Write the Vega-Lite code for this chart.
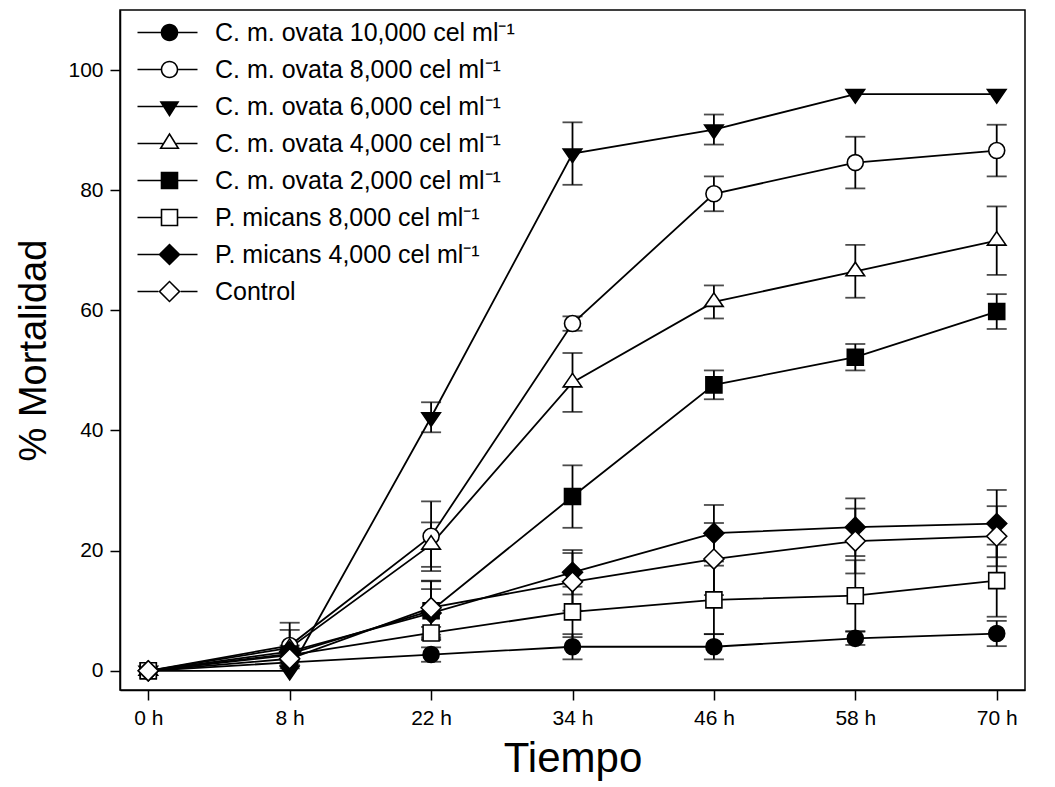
{
  "$schema": "https://vega.github.io/schema/vega-lite/v6.json",
  "width": 905,
  "height": 680,
  "autosize": {"type": "none"},
  "padding": {"left": 120, "top": 10, "right": 30, "bottom": 97},
  "background": "white",
  "config": {
    "font": "Liberation Sans",
    "view": {"stroke": "black", "strokeWidth": 1.5},
    "axis": {
      "domainColor": "black", "domainWidth": 1.5,
      "tickColor": "black", "tickWidth": 1.5, "tickSize": 10,
      "grid": false,
      "labelFont": "Liberation Sans", "labelFontSize": 21, "labelColor": "black",
      "titleFont": "Liberation Sans", "titleFontWeight": "normal", "titleColor": "black", "titleFontSize": 38
    }
  },
  "data": {"values": [
    {"s": "C. m. ovata 10,000 cel ml⁻¹", "t": "0 h", "h": 0, "m": 0, "e": 0},
    {"s": "C. m. ovata 10,000 cel ml⁻¹", "t": "8 h", "h": 8, "m": 1.4, "e": 0},
    {"s": "C. m. ovata 10,000 cel ml⁻¹", "t": "22 h", "h": 22, "m": 2.7, "e": 1.2},
    {"s": "C. m. ovata 10,000 cel ml⁻¹", "t": "34 h", "h": 34, "m": 4.0, "e": 2.1},
    {"s": "C. m. ovata 10,000 cel ml⁻¹", "t": "46 h", "h": 46, "m": 4.0, "e": 2.1},
    {"s": "C. m. ovata 10,000 cel ml⁻¹", "t": "58 h", "h": 58, "m": 5.4, "e": 1.1},
    {"s": "C. m. ovata 10,000 cel ml⁻¹", "t": "70 h", "h": 70, "m": 6.2, "e": 2.1},
    {"s": "C. m. ovata 8,000 cel ml⁻¹", "t": "0 h", "h": 0, "m": 0, "e": 0},
    {"s": "C. m. ovata 8,000 cel ml⁻¹", "t": "8 h", "h": 8, "m": 4.2, "e": 3.8},
    {"s": "C. m. ovata 8,000 cel ml⁻¹", "t": "22 h", "h": 22, "m": 22.4, "e": 5.8},
    {"s": "C. m. ovata 8,000 cel ml⁻¹", "t": "34 h", "h": 34, "m": 57.8, "e": 1.2},
    {"s": "C. m. ovata 8,000 cel ml⁻¹", "t": "46 h", "h": 46, "m": 79.4, "e": 2.9},
    {"s": "C. m. ovata 8,000 cel ml⁻¹", "t": "58 h", "h": 58, "m": 84.6, "e": 4.3},
    {"s": "C. m. ovata 8,000 cel ml⁻¹", "t": "70 h", "h": 70, "m": 86.6, "e": 4.3},
    {"s": "C. m. ovata 6,000  cel ml⁻¹", "t": "0 h", "h": 0, "m": 0, "e": 0},
    {"s": "C. m. ovata 6,000  cel ml⁻¹", "t": "8 h", "h": 8, "m": 0, "e": 0},
    {"s": "C. m. ovata 6,000  cel ml⁻¹", "t": "22 h", "h": 22, "m": 42.2, "e": 2.5},
    {"s": "C. m. ovata 6,000  cel ml⁻¹", "t": "34 h", "h": 34, "m": 86.1, "e": 5.2},
    {"s": "C. m. ovata 6,000  cel ml⁻¹", "t": "46 h", "h": 46, "m": 90.1, "e": 2.5},
    {"s": "C. m. ovata 6,000  cel ml⁻¹", "t": "58 h", "h": 58, "m": 96.0, "e": 0},
    {"s": "C. m. ovata 6,000  cel ml⁻¹", "t": "70 h", "h": 70, "m": 96.0, "e": 0},
    {"s": "C. m. ovata 4,000 cel ml⁻¹", "t": "0 h", "h": 0, "m": 0, "e": 0},
    {"s": "C. m. ovata 4,000 cel ml⁻¹", "t": "8 h", "h": 8, "m": 3.8, "e": 3.0},
    {"s": "C. m. ovata 4,000 cel ml⁻¹", "t": "22 h", "h": 22, "m": 21.0, "e": 3.7},
    {"s": "C. m. ovata 4,000 cel ml⁻¹", "t": "34 h", "h": 34, "m": 48.0, "e": 4.9},
    {"s": "C. m. ovata 4,000 cel ml⁻¹", "t": "46 h", "h": 46, "m": 61.4, "e": 2.75},
    {"s": "C. m. ovata 4,000 cel ml⁻¹", "t": "58 h", "h": 58, "m": 66.5, "e": 4.4},
    {"s": "C. m. ovata 4,000 cel ml⁻¹", "t": "70 h", "h": 70, "m": 71.6, "e": 5.7},
    {"s": "C. m. ovata 2,000 cel ml⁻¹", "t": "0 h", "h": 0, "m": 0, "e": 0},
    {"s": "C. m. ovata 2,000 cel ml⁻¹", "t": "8 h", "h": 8, "m": 2.8, "e": 1.0},
    {"s": "C. m. ovata 2,000 cel ml⁻¹", "t": "22 h", "h": 22, "m": 10.0, "e": 4.9},
    {"s": "C. m. ovata 2,000 cel ml⁻¹", "t": "34 h", "h": 34, "m": 29.0, "e": 5.2},
    {"s": "C. m. ovata 2,000 cel ml⁻¹", "t": "46 h", "h": 46, "m": 47.6, "e": 2.4},
    {"s": "C. m. ovata 2,000 cel ml⁻¹", "t": "58 h", "h": 58, "m": 52.2, "e": 2.2},
    {"s": "C. m. ovata 2,000 cel ml⁻¹", "t": "70 h", "h": 70, "m": 59.8, "e": 2.9},
    {"s": "P. micans 8,000 cel ml⁻¹", "t": "0 h", "h": 0, "m": 0, "e": 0},
    {"s": "P. micans 8,000 cel ml⁻¹", "t": "8 h", "h": 8, "m": 2.6, "e": 1.0},
    {"s": "P. micans 8,000 cel ml⁻¹", "t": "22 h", "h": 22, "m": 6.3, "e": 1.0},
    {"s": "P. micans 8,000 cel ml⁻¹", "t": "34 h", "h": 34, "m": 9.8, "e": 4.2},
    {"s": "P. micans 8,000 cel ml⁻¹", "t": "46 h", "h": 46, "m": 11.8, "e": 5.7},
    {"s": "P. micans 8,000 cel ml⁻¹", "t": "58 h", "h": 58, "m": 12.5, "e": 5.9},
    {"s": "P. micans 8,000 cel ml⁻¹", "t": "70 h", "h": 70, "m": 15.0, "e": 6.0},
    {"s": "P. micans 4,000 cel ml⁻¹", "t": "0 h", "h": 0, "m": 0, "e": 0},
    {"s": "P. micans 4,000 cel ml⁻¹", "t": "8 h", "h": 8, "m": 3.2, "e": 1.0},
    {"s": "P. micans 4,000 cel ml⁻¹", "t": "22 h", "h": 22, "m": 9.6, "e": 4.0},
    {"s": "P. micans 4,000 cel ml⁻¹", "t": "34 h", "h": 34, "m": 16.4, "e": 3.7},
    {"s": "P. micans 4,000 cel ml⁻¹", "t": "46 h", "h": 46, "m": 22.9, "e": 4.7},
    {"s": "P. micans 4,000 cel ml⁻¹", "t": "58 h", "h": 58, "m": 23.9, "e": 4.8},
    {"s": "P. micans 4,000 cel ml⁻¹", "t": "70 h", "h": 70, "m": 24.5, "e": 5.6},
    {"s": "Control", "t": "0 h", "h": 0, "m": 0, "e": 0},
    {"s": "Control", "t": "8 h", "h": 8, "m": 2.0, "e": 1.0},
    {"s": "Control", "t": "22 h", "h": 22, "m": 10.5, "e": 4.5},
    {"s": "Control", "t": "34 h", "h": 34, "m": 14.8, "e": 4.8},
    {"s": "Control", "t": "46 h", "h": 46, "m": 18.6, "e": 6.0},
    {"s": "Control", "t": "58 h", "h": 58, "m": 21.6, "e": 5.4},
    {"s": "Control", "t": "70 h", "h": 70, "m": 22.4, "e": 5.0}
  ]},
  "encoding": {
    "x": {
      "field": "t", "type": "ordinal",
      "sort": ["0 h", "8 h", "22 h", "34 h", "46 h", "58 h", "70 h"],
      "scale": {"type": "point", "padding": 0.2},
      "axis": {"title": "Tiempo", "titleFontSize": 42, "labelAngle": 0, "labelPadding": 7, "titlePadding": 10}
    },
    "y": {
      "field": "m", "type": "quantitative",
      "scale": {"domain": [-3.2, 110], "nice": false, "zero": false},
      "axis": {"title": "% Mortalidad", "values": [0, 20, 40, 60, 80, 100], "labelPadding": 7, "titlePadding": 14}
    }
  },
  "resolve": {"scale": {"shape": "independent"}, "legend": {"shape": "independent"}},
  "layer": [
    {
      "mark": {"type": "line", "color": "black", "strokeWidth": 1.8},
      "encoding": {"detail": {"field": "s"}, "order": {"field": "h", "type": "quantitative"}}
    },
    {
      "transform": [{"filter": "datum.e > 0"}],
      "mark": {"type": "errorbar", "color": "black", "thickness": 1.8, "ticks": {"size": 20, "color": "black"}},
      "encoding": {"yError": {"field": "e"}}
    },
    {
      "mark": {"type": "point", "filled": false, "size": 256, "stroke": "black", "strokeWidth": 1.6, "opacity": 1},
      "encoding": {
        "shape": {
          "field": "s", "type": "nominal",
          "scale": {
            "domain": ["C. m. ovata 10,000 cel ml⁻¹", "C. m. ovata 8,000 cel ml⁻¹", "C. m. ovata 6,000  cel ml⁻¹", "C. m. ovata 4,000 cel ml⁻¹", "C. m. ovata 2,000 cel ml⁻¹", "P. micans 8,000 cel ml⁻¹", "P. micans 4,000 cel ml⁻¹", "Control"],
            "range": [
              "M-1,0A1,1 0 1,1 1,0A1,1 0 1,1 -1,0Z",
              "M-1,0A1,1 0 1,1 1,0A1,1 0 1,1 -1,0Z",
              "M-1.16,-0.56H1.16L0,1.13Z",
              "M0,-1.13L1.16,0.56H-1.16Z",
              "M-1,-1H1V1H-1Z",
              "M-1,-1H1V1H-1Z",
              "M-1.25,0L0,-1.25L1.25,0L0,1.25Z",
              "M-1.25,0L0,-1.25L1.25,0L0,1.25Z"
            ]
          },
          "legend": null
        },
        "fill": {
          "field": "s", "type": "nominal",
          "scale": {
            "domain": ["C. m. ovata 10,000 cel ml⁻¹", "C. m. ovata 8,000 cel ml⁻¹", "C. m. ovata 6,000  cel ml⁻¹", "C. m. ovata 4,000 cel ml⁻¹", "C. m. ovata 2,000 cel ml⁻¹", "P. micans 8,000 cel ml⁻¹", "P. micans 4,000 cel ml⁻¹", "Control"],
            "range": ["black", "white", "black", "white", "black", "white", "black", "white"]
          },
          "legend": null
        }
      }
    },
    {
      "transform": [{"filter": "datum.h < 0"}],
      "mark": {"type": "point", "filled": true, "color": "black", "size": 256, "strokeWidth": 0, "opacity": 1},
      "encoding": {
        "shape": {
          "field": "s", "type": "nominal",
          "scale": {
            "domain": ["C. m. ovata 10,000 cel ml⁻¹", "C. m. ovata 8,000 cel ml⁻¹", "C. m. ovata 6,000  cel ml⁻¹", "C. m. ovata 4,000 cel ml⁻¹", "C. m. ovata 2,000 cel ml⁻¹", "P. micans 8,000 cel ml⁻¹", "P. micans 4,000 cel ml⁻¹", "Control"],
            "range": [
              "M-4,-0.1H3.5V0.1H-4Z M-1.1,0A1.1,1.1 0 1,1 1.1,0A1.1,1.1 0 1,1 -1.1,0Z",
              "M-4,-0.1H-1.1V0.1H-4Z M1.1,-0.1H3.5V0.1H1.1Z M-1.1,0A1.1,1.1 0 1,1 1.1,0A1.1,1.1 0 1,1 -1.1,0Z M-0.9,0A0.9,0.9 0 1,0 0.9,0A0.9,0.9 0 1,0 -0.9,0Z",
              "M-4,-0.1H3.5V0.1H-4Z M-1.25,-0.65H1.25L0,1.3Z",
              "M-4,-0.1H-0.85V0.1H-4Z M0.85,-0.1H3.5V0.1H0.85Z M0,-1.39L1.28,0.7H-1.28Z M0,-1.01L-0.92,0.5H0.92Z",
              "M-4,-0.1H3.5V0.1H-4Z M-1.1,-1.1H1.1V1.1H-1.1Z",
              "M-4,-0.1H-1.1V0.1H-4Z M1.1,-0.1H3.5V0.1H1.1Z M-1.1,-1.1H1.1V1.1H-1.1Z M-0.9,-0.9V0.9H0.9V-0.9Z",
              "M-4,-0.1H3.5V0.1H-4Z M-1.39,0L0,-1.39L1.39,0L0,1.39Z",
              "M-4,-0.1H-1.39V0.1H-4Z M1.39,-0.1H3.5V0.1H1.39Z M-1.39,0L0,-1.39L1.39,0L0,1.39Z M-1.11,0L0,1.11L1.11,0L0,-1.11Z"
            ]
          },
          "legend": {
            "title": null, "orient": "none", "legendX": 37, "legendY": 10,
            "padding": 0, "symbolSize": 256, "symbolStrokeWidth": 0, "symbolFillColor": "black",
            "labelFont": "Liberation Sans", "labelFontSize": 25, "labelColor": "black", "labelOffset": 33, "labelLimit": 0,
            "rowPadding": 11
          }
        }
      }
    }
  ]
}
